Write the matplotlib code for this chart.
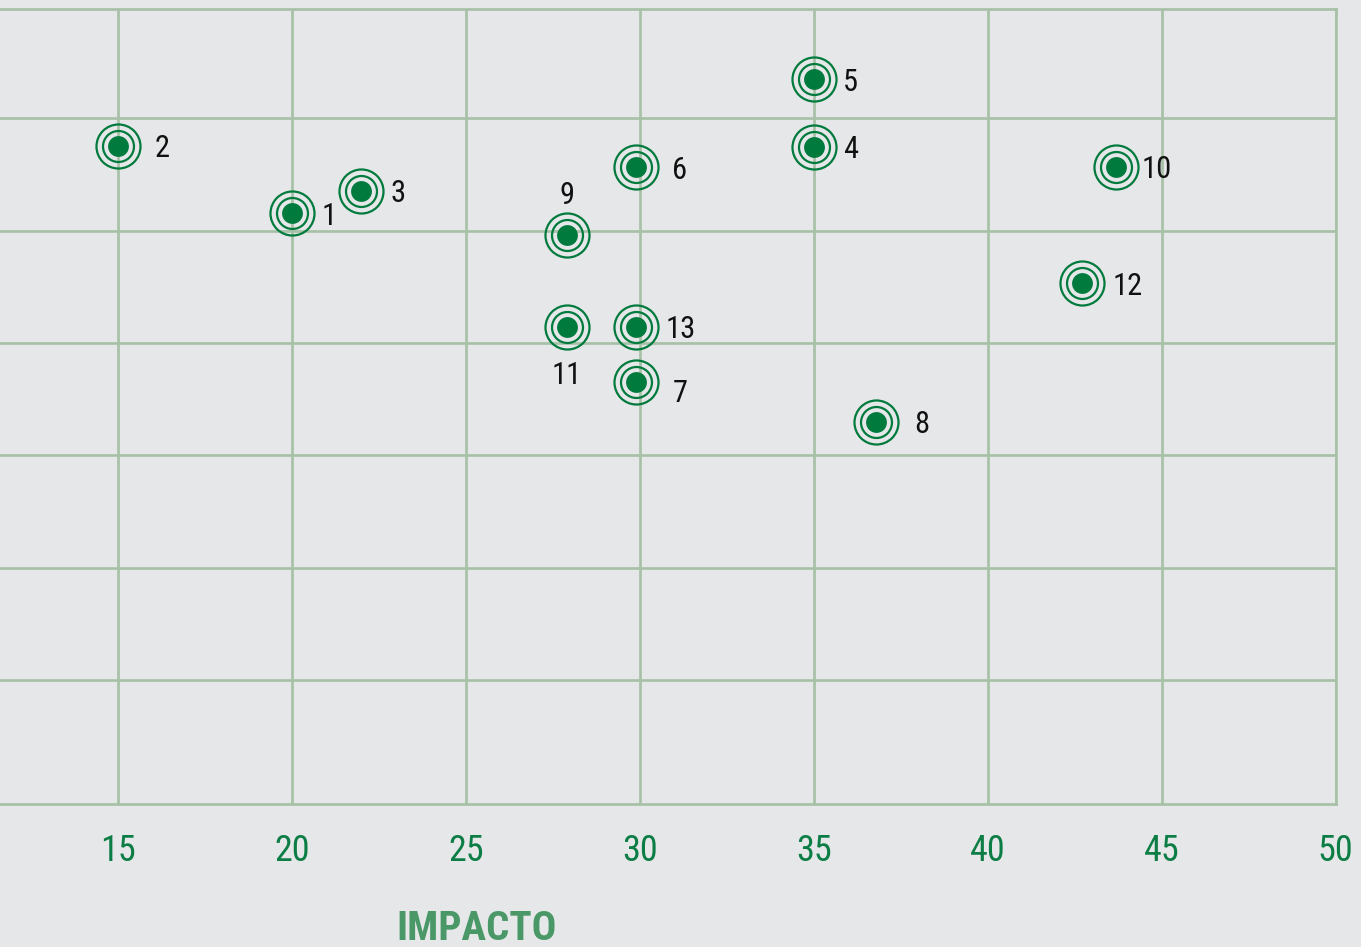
import matplotlib
matplotlib.use("Agg")
import matplotlib.pyplot as plt
from matplotlib import font_manager

# ---- data ----
point_ids = ["1", "2", "3", "4", "5", "6", "7", "8", "9", "10", "11", "12", "13"]
impacto = [20.0, 15.0, 22.0, 35.0, 35.0, 29.9, 29.9, 36.8, 27.9, 43.7, 27.9, 42.7, 29.9]
valor_y = [25.77, 28.77, 26.78, 28.74, 31.74, 27.81, 18.26, 16.50, 24.81, 27.85, 20.71, 22.66, 20.71]
x_ticks = [15, 20, 25, 30, 35, 40, 45, 50]
y_grid = [5, 10, 15, 20, 25, 30]
x_label = "IMPACTO"

# label offsets in pixels (dx, dy; dy positive = up)
label_offsets = {
    "1": (37, 0), "2": (44, 0), "3": (37, 0), "4": (37, 0), "5": (37, 0),
    "6": (43, 0), "7": (44, -8), "8": (45, 0), "9": (0, 42), "10": (40, 0),
    "11": (0, -46), "12": (46, 0), "13": (44, 0),
}

# ---- style ----
BG = "#e6e7e8"
GRID = "#a7c1a7"
GREEN = "#007a3d"
TICK_GREEN = "#0b7d45"
LABEL_GREEN = "#4a9868"

available = {f.name for f in font_manager.fontManager.ttflist}
preferred = ["Liberation Sans Narrow", "Roboto Condensed", "Open Sans Condensed",
             "DejaVu Sans Condensed", "Lato", "Open Sans", "DejaVu Sans"]
FONT_NAME = next(n for n in preferred if n in available)
FONT = [FONT_NAME, "DejaVu Sans"]

W, H = 1361, 947
fig = plt.figure(figsize=(W / 100, H / 100), dpi=100, facecolor=BG)

left_px, right_px, top_px, bottom_px = -56.1, 1335.7, 9.0, 804.3
ax = fig.add_axes([left_px / W, 1 - bottom_px / H,
                   (right_px - left_px) / W, (bottom_px - top_px) / H])
ax.set_facecolor(BG)
ax.set_xlim(10, 50)
ax.set_ylim(-0.53, 34.86)

ax.set_xticks(x_ticks)
ax.set_xticklabels([str(t) for t in x_ticks])
ax.set_yticks(y_grid)
ax.set_yticklabels([])
ax.tick_params(axis="both", length=0)
ax.tick_params(axis="x", pad=20.5, labelcolor=TICK_GREEN, labelsize=26)
for lbl in ax.get_xticklabels():
    lbl.set_family(FONT)

ax.grid(True, color=GRID, linewidth=1.95, zorder=0)
ax.set_axisbelow(True)
for side in ["top", "right", "bottom", "left"]:
    ax.spines[side].set_color(GRID)
    ax.spines[side].set_linewidth(1.95)

# concentric-circle markers
ax.plot(impacto, valor_y, "o", ms=31.7, mfc="none", mec=GREEN, mew=1.6,
        linestyle="none", zorder=3)
ax.plot(impacto, valor_y, "o", ms=22.3, mfc="none", mec=GREEN, mew=1.6,
        linestyle="none", zorder=3)
ax.plot(impacto, valor_y, "o", ms=15.0, mfc=GREEN, mec="none",
        linestyle="none", zorder=4)

for pid, xv, yv in zip(point_ids, impacto, valor_y):
    dx, dy = label_offsets[pid]
    ax.annotate(pid, (xv, yv), xytext=(dx, dy), textcoords="offset pixels",
                ha="center", va="center_baseline", fontsize=22,
                color="#111111", family=FONT, zorder=5)

fig.text(477.0 / W, 1 - 925.0 / H, x_label, ha="center", va="center_baseline",
         fontsize=29.5, fontweight="bold", color=LABEL_GREEN, family=FONT)

fig.savefig("out.png", dpi=100, facecolor=BG)
